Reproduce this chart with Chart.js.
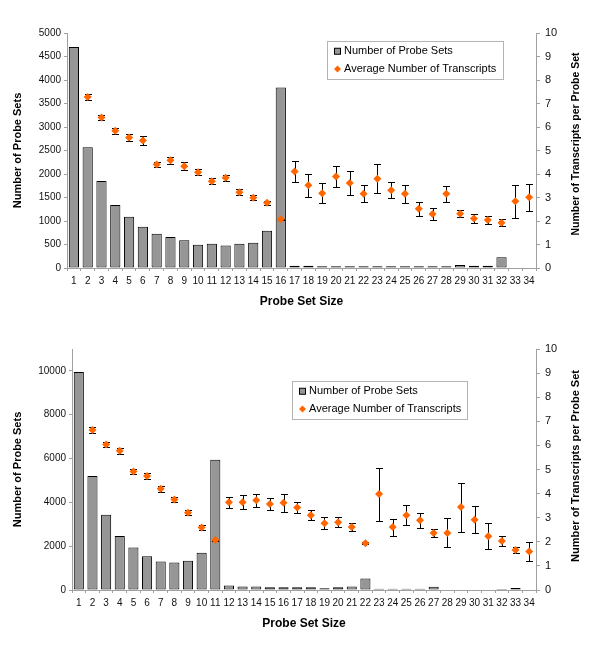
<!DOCTYPE html>
<html>
<head>
<meta charset="utf-8">
<script src="https://cdn.jsdelivr.net/npm/chart.js@4.4.1/dist/chart.umd.min.js"></script>
<style>
  body { margin: 0; background: #fff; }
  .box { position: absolute; left: 0; width: 600px; }
</style>
</head>
<body>
<div class="box" style="top:0;height:323px"><canvas id="topChart"></canvas></div>
<div class="box" style="top:323px;height:324px"><canvas id="bottomChart"></canvas></div>
<script>
// probe set sizes 1..34
const sizes = ['1','2','3','4','5','6','7','8','9','10','11','12','13','14','15','16','17',
  '18','19','20','21','22','23','24','25','26','27','28','29','30','31','32','33','34'];

// left axis tick labels for each panel (right axis is 0..10 in both)
const topLeftTicks = [0, 500, 1000, 1500, 2000, 2500, 3000, 3500, 4000, 4500, 5000];
const botLeftTicks = [0, 2000, 4000, 6000, 8000, 10000];
const rightTicks = [0, 1, 2, 3, 4, 5, 6, 7, 8, 9, 10];

// upper panel
const topCounts = [4700, 2570, 1850, 1340, 1090, 880, 730, 660, 590, 495, 515, 480, 515, 535, 790, 3840,
  50, 50, 35, 35, 35, 35, 35, 35, 35, 35, 35, 35, 65, 50, 50, 230, 0, 0];
const topAvg = [null, 7.28, 6.40, 5.84, 5.55, 5.43, 4.40, 4.58, 4.33, 4.07, 3.69, 3.84, 3.22, 2.99, 2.78, 2.07,
  4.11, 3.52, 3.18, 3.89, 3.62, 3.16, 3.80, 3.31, 3.16, 2.52, 2.30, 3.16, 2.31, 2.11, 2.04, 1.93, 2.84, 3.01];
const topErr = [null, 0.14, 0.11, 0.13, 0.14, 0.18, 0.09, 0.16, 0.16, 0.13, 0.12, 0.13, 0.13, 0.10, 0.08, 0.02,
  0.45, 0.50, 0.43, 0.45, 0.52, 0.37, 0.62, 0.33, 0.38, 0.29, 0.26, 0.35, 0.15, 0.19, 0.16, 0.15, 0.71, 0.57];

// lower panel
const botCounts = [9950, 5200, 3430, 2470, 1940, 1540, 1300, 1260, 1330, 1700, 5950, 210, 165, 165, 120, 120,
  120, 120, 80, 120, 165, 520, 60, 60, 60, 60, 150, 0, 0, 0, 0, 45, 90, 0];
const botAvg = [null, 6.64, 6.04, 5.78, 4.92, 4.73, 4.20, 3.76, 3.21, 2.59, 2.07, 3.64, 3.64, 3.72, 3.57, 3.62,
  3.42, 3.10, 2.77, 2.81, 2.61, 1.94, 3.98, 2.61, 3.10, 2.89, 2.37, 2.37, 3.44, 2.92, 2.23, 2.03, 1.66, 1.60];
const botErr = [null, 0.11, 0.10, 0.12, 0.10, 0.13, 0.12, 0.10, 0.09, 0.09, 0.02, 0.23, 0.29, 0.26, 0.24, 0.37,
  0.24, 0.20, 0.24, 0.21, 0.16, 0.04, 1.10, 0.35, 0.41, 0.30, 0.17, 0.60, 1.02, 0.55, 0.54, 0.20, 0.13, 0.40];

const FONT = "'Liberation Sans', Arial, sans-serif";
const AXIS = '#a0a0a0';
const ORANGE = '#ff6600';
const BAR = '#969696';

// whiskers for the average series, drawn just before its markers
const errorBars = {
  id: 'errorBars',
  beforeDatasetDraw(chart, args) {
    const ds = chart.data.datasets[args.index];
    if (!ds.errors) return;
    const ctx = chart.ctx, x = chart.scales.x, y = chart.scales.y1;
    ctx.save();
    ctx.strokeStyle = '#000';
    ctx.lineWidth = 1;
    ds.data.forEach((v, i) => {
      if (v == null) return;
      const px = Math.round(x.getPixelForValue(i)) + 0.5;
      const hi = Math.round(y.getPixelForValue(v + ds.errors[i])) + 0.5;
      const lo = Math.round(y.getPixelForValue(v - ds.errors[i])) + 0.5;
      ctx.beginPath();
      ctx.moveTo(px, hi); ctx.lineTo(px, lo);
      ctx.moveTo(px - 3.5, hi); ctx.lineTo(px + 3.5, hi);
      ctx.moveTo(px - 3.5, lo); ctx.lineTo(px + 3.5, lo);
      ctx.stroke();
    });
    ctx.restore();
  }
};

// boxed legend sitting inside the plot, like the original
const boxLegend = {
  id: 'boxLegend',
  afterDraw(chart, args, o) {
    const ctx = chart.ctx;
    const [bars, pts] = chart.data.datasets;
    ctx.save();
    ctx.fillStyle = '#fff';
    ctx.strokeStyle = '#b4b4b4';
    ctx.lineWidth = 1;
    ctx.fillRect(o.x, o.y, o.w, o.h);
    ctx.strokeRect(o.x + 0.5, o.y + 0.5, o.w, o.h);
    ctx.font = '11px ' + FONT;
    ctx.textBaseline = 'middle';
    const r1 = o.y + o.h * 0.27, r2 = o.y + o.h * 0.74;
    ctx.fillStyle = bars.backgroundColor;
    ctx.strokeStyle = '#000';
    ctx.fillRect(o.x + 7.5, r1 - 3, 6, 6);
    ctx.strokeRect(o.x + 7.5, r1 - 3, 6, 6);
    ctx.fillStyle = ORANGE;
    ctx.beginPath();
    ctx.moveTo(o.x + 10.5, r2 - 3.5); ctx.lineTo(o.x + 14, r2);
    ctx.lineTo(o.x + 10.5, r2 + 3.5); ctx.lineTo(o.x + 7, r2);
    ctx.closePath(); ctx.fill();
    ctx.fillStyle = '#000';
    ctx.fillText(bars.label, o.x + 17, r1);
    ctx.fillText(pts.label, o.x + 17, r2);
    ctx.restore();
  }
};

// right axis title reads bottom-to-top in the original
const rightTitle = {
  id: 'rightTitle',
  afterDraw(chart, args, o) {
    const ctx = chart.ctx;
    ctx.save();
    ctx.translate(o.x, o.y);
    ctx.rotate(-Math.PI / 2);
    ctx.font = 'bold ' + o.size + 'px ' + FONT;
    ctx.fillStyle = '#000';
    ctx.textAlign = 'center';
    ctx.textBaseline = 'middle';
    ctx.fillText(o.text, 0, 0);
    ctx.restore();
  }
};

function makeChart(id, counts, avg, err, leftTicks, lay) {
  return new Chart(document.getElementById(id), {
    data: {
      labels: sizes,
      datasets: [{
        type: 'bar',
        label: 'Number of Probe Sets',
        data: counts,
        yAxisID: 'y',
        backgroundColor: BAR,
        borderColor: '#000',
        borderWidth: 1,
        borderSkipped: false,
        barPercentage: 0.74,
        categoryPercentage: 1,
        order: 2
      }, {
        type: 'line',
        label: 'Average Number of Transcripts',
        data: avg,
        errors: err,
        yAxisID: 'y1',
        showLine: false,
        pointStyle: 'rectRot',
        pointRadius: 4,
        pointBackgroundColor: ORANGE,
        pointBorderColor: ORANGE,
        pointBorderWidth: 0,
        order: 1
      }]
    },
    options: {
      responsive: true,
      maintainAspectRatio: false,
      animation: false,
      devicePixelRatio: 1,
      layout: { padding: { top: lay.top, bottom: lay.bottom, left: 0, right: 0 } },
      plugins: {
        legend: { display: false },
        tooltip: { enabled: false },
        boxLegend: lay.legend,
        rightTitle: lay.rtitle
      },
      scales: {
        x: {
          offset: true,
          grid: { display: true, drawOnChartArea: false, tickLength: 3, color: AXIS },
          border: { color: AXIS },
          ticks: { autoSkip: false, maxRotation: 0, padding: 4, color: '#111', font: { family: FONT, size: 10 } },
          title: { display: true, text: 'Probe Set Size', color: '#000',
                   font: { family: FONT, size: 12, weight: 'bold' }, padding: { top: 0, bottom: 4.4 } },
          afterFit(s) { s.height = 45; s.paddingLeft = 0; s.paddingRight = 0; }
        },
        y: {
          position: 'left',
          min: 0, max: lay.ymax,
          afterBuildTicks(s) { s.ticks = leftTicks.map(v => ({ value: v })); },
          ticks: { autoSkip: false, padding: 3, color: '#111', font: { family: FONT, size: 10 },
                   callback: v => String(v) },
          grid: { drawOnChartArea: false, tickLength: 3, color: AXIS },
          border: { color: AXIS },
          title: { display: true, text: 'Number of Probe Sets', color: '#000',
                   font: { family: FONT, size: 11, weight: 'bold' }, padding: { top: 11, bottom: 0 } },
          afterFit(s) { s.width = lay.left; s.paddingTop = 0; s.paddingBottom = 0; }
        },
        y1: {
          position: 'right',
          min: 0, max: 10,
          afterBuildTicks(s) { s.ticks = rightTicks.map(v => ({ value: v })); },
          ticks: { autoSkip: false, padding: 5, color: '#111', font: { family: FONT, size: 11 } },
          grid: { drawOnChartArea: false, tickLength: 4, color: AXIS },
          border: { color: AXIS },
          afterFit(s) { s.width = 64; s.paddingTop = 0; s.paddingBottom = 0; }
        }
      }
    },
    plugins: [errorBars, boxLegend, rightTitle]
  });
}

makeChart('topChart', topCounts, topAvg, topErr, topLeftTicks, {
  top: 33, bottom: 10, left: 67, ymax: 5000,
  legend: { x: 327, y: 41, w: 176, h: 38 },
  rtitle: { x: 576, y: 144, size: 10.5, text: 'Number of Transcripts per Probe Set' }
});

makeChart('bottomChart', botCounts, botAvg, botErr, botLeftTicks, {
  top: 26, bottom: 12, left: 72, ymax: 11000,
  legend: { x: 292, y: 58, w: 175, h: 38 },
  rtitle: { x: 576, y: 143, size: 11, text: 'Number of Transcripts per Probe Set' }
});
</script>
</body>
</html>
